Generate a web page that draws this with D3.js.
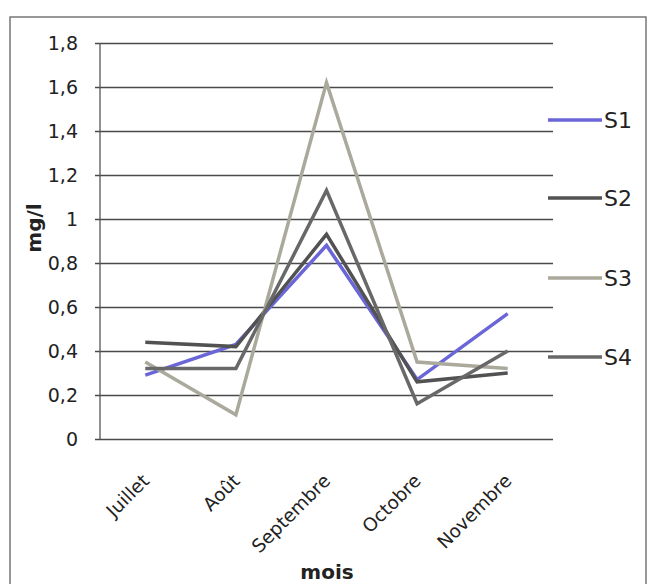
<!DOCTYPE html>
<html>
<head>
<meta charset="utf-8">
<script src="https://cdn.jsdelivr.net/npm/d3@7"></script>
<style>
  body { margin: 0; background: #fff; }
  text { font-family: "DejaVu Sans", sans-serif; }
</style>
</head>
<body>
<div id="chart"></div>
<script>
// --------------------------------------
//  Data
// --------------------------------------

const months = ["Juillet", "Août", "Septembre", "Octobre", "Novembre"];
const seriesNames = ["S1", "S2", "S3", "S4"];
const s1 = [0.29, 0.43, 0.88, 0.27, 0.57];
const s2 = [0.44, 0.42, 0.93, 0.26, 0.30];
const s3 = [0.35, 0.11, 1.62, 0.35, 0.32];
const s4 = [0.32, 0.32, 1.13, 0.16, 0.40];
const yTicks = [0, 0.2, 0.4, 0.6, 0.8, 1, 1.2, 1.4, 1.6, 1.8];

const series = [s1, s2, s3, s4].map((vals, i) => ({
  name: seriesNames[i],
  values: vals.map((v, j) => ({month: months[j], value: v}))
}));

// --------------------------------------
//  Margin and canvas
// --------------------------------------

const width = 649;
const height = 584;
const plot = {left: 100, right: 553, top: 43, bottom: 439};

const svg = d3.select("#chart")
  .append("svg")
    .attr("width", width)
    .attr("height", height);

// frame
svg.append("rect")
    .attr("x", 10)
    .attr("y", 17)
    .attr("width", 636)
    .attr("height", 620)
    .attr("fill", "none")
    .attr("stroke", "#777")
    .attr("stroke-width", 1.5);

// --------------------------------------
//  Scales
// --------------------------------------

const x = d3.scaleBand()
    .domain(months)
    .range([plot.left, plot.right]);

const y = d3.scaleLinear()
    .domain([0, 1.8])
    .range([plot.bottom, plot.top]);

const c = d3.scaleOrdinal()
    .domain(seriesNames)
    .range(["#6a66d8", "#525252", "#aaa99c", "#686868"]);

const cx = d => x(d) + x.bandwidth() / 2;

// --------------------------------------
//  Axes
// --------------------------------------

// gridlines + y labels
svg.append("g")
    .attr("class", "y-axis")
    .attr("transform", `translate(${plot.left}, 0)`)
    .call(d3.axisLeft(y)
        .tickValues(yTicks)
        .tickSize(-(plot.right - plot.left))
        .tickPadding(22)
        .tickFormat(d => d3.format("")(d).replace(".", ",")))
    .call(g => g.select(".domain").remove())
    .call(g => g.selectAll(".tick line")
        .attr("x1", -5)
        .attr("stroke", "#4a4a4a")
        .attr("stroke-width", 1.3))
    .call(g => g.selectAll(".tick text")
        .attr("font-family", "DejaVu Sans")
        .attr("font-size", 19)
        .attr("fill", "#222"));

svg.append("line")
    .attr("x1", plot.left)
    .attr("x2", plot.left)
    .attr("y1", plot.top)
    .attr("y2", plot.bottom)
    .attr("stroke", "#555")
    .attr("stroke-width", 1.3);

// x labels
svg.append("g")
    .attr("class", "x-axis")
    .selectAll("text")
    .data(months)
    .join("text")
    .attr("transform", d => `translate(${cx(d) + 5}, 482) rotate(-45)`)
    .attr("text-anchor", "end")
    .attr("font-size", 18.5)
    .attr("fill", "#222")
    .text(d => d);

// axis titles
svg.append("text")
    .attr("x", 327)
    .attr("y", 579)
    .attr("text-anchor", "middle")
    .attr("font-size", 20)
    .attr("font-weight", "bold")
    .attr("fill", "#222")
    .text("mois");

svg.append("text")
    .attr("transform", "translate(41, 228) rotate(-90)")
    .attr("text-anchor", "middle")
    .attr("font-size", 20)
    .attr("font-weight", "bold")
    .attr("fill", "#222")
    .text("mg/l");

// --------------------------------------
//  Data drawing
// --------------------------------------

const line = d3.line()
    .x(d => cx(d.month))
    .y(d => y(d.value));

svg.append("g")
    .selectAll("path")
    .data(series)
    .join("path")
    .attr("d", d => line(d.values))
    .attr("fill", "none")
    .attr("stroke", d => c(d.name))
    .attr("stroke-width", 3.5)
    .attr("stroke-linejoin", "miter");

// --------------------------------------
//  Legend
// --------------------------------------

const legendY = [120, 198, 278, 357];

const legend = svg.append("g")
    .selectAll("g")
    .data(seriesNames)
    .join("g")
    .attr("transform", (d, i) => `translate(548, ${legendY[i]})`);

legend.append("line")
    .attr("x1", 0)
    .attr("x2", 54)
    .attr("stroke", d => c(d))
    .attr("stroke-width", 3.5);

legend.append("text")
    .attr("x", 56)
    .attr("dy", "0.36em")
    .attr("font-size", 22)
    .attr("fill", "#222")
    .text(d => d);
</script>
</body>
</html>
